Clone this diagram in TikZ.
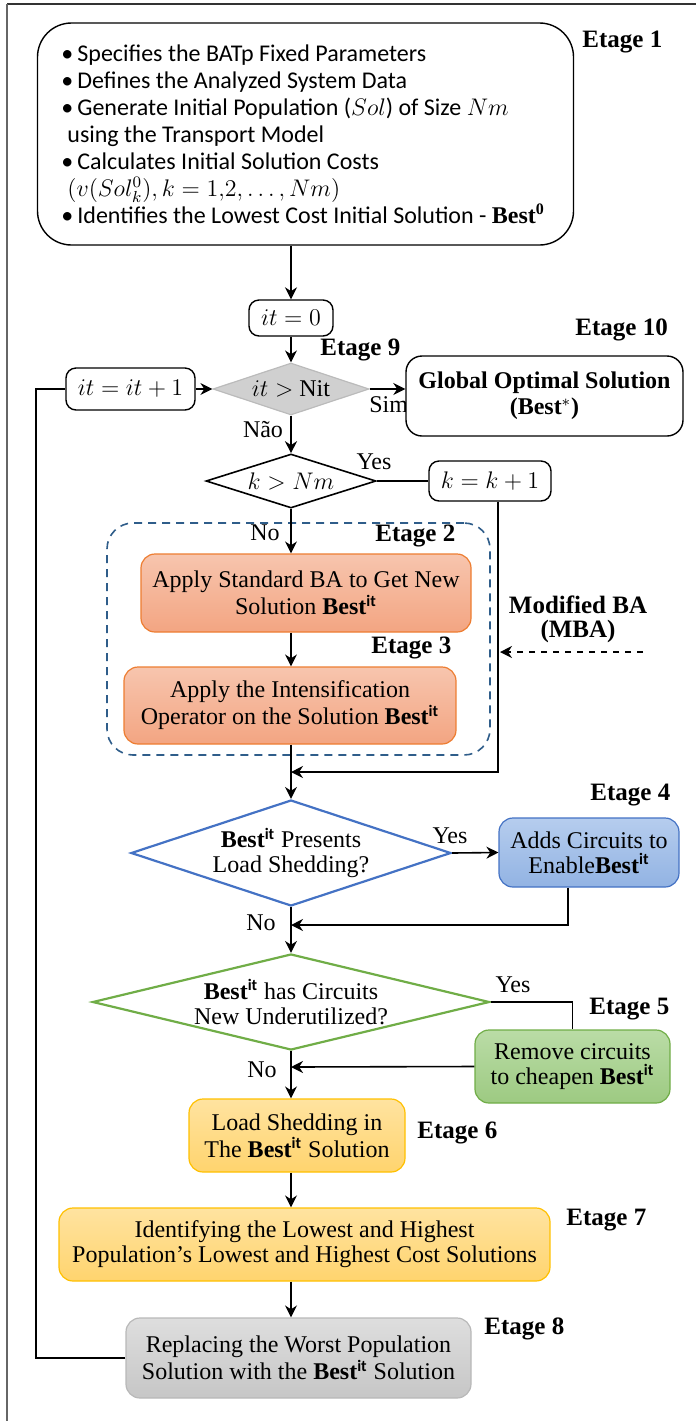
\documentclass[tikz,border=0pt]{standalone}
\usepackage{fontspec}
\setmainfont{Liberation Serif}
\newfontfamily\calibri{Carlito}
\usetikzlibrary{positioning,shapes.geometric,arrows.meta,backgrounds}

\newcommand{\bestit}{\textbf{Best}\textsuperscript{\calibri\bfseries it}}
\newcommand{\bul}{\makebox[8pt][l]{\textbullet}}
\newcommand{\nobul}{\hspace*{3pt}}

\begin{document}
\begin{tikzpicture}[x=0.5pt,y=-0.5pt,
    every node/.style={font=\fontsize{12}{12.5}\selectfont},
    roundbox/.style={draw,fill=white,rounded corners=5pt,line width=0.7pt,align=center,inner sep=0pt},
    fillbox/.style={rounded corners=7pt,line width=0.6pt,align=center,inner sep=0pt},
    choice/.style={diamond,inner sep=0pt,line width=1.1pt},
    etage/.style={anchor=west,inner sep=0pt,font=\fontsize{12.5}{13}\selectfont\bfseries},
    flow/.style={-{Stealth[length=6pt,width=6pt]},line width=0.8pt},
    link/.style={line width=0.8pt}
  ]
  \definecolor{orline}{HTML}{ED7D31}
  \definecolor{ortop}{HTML}{F7C5AE}
  \definecolor{orbot}{HTML}{F3A582}
  \definecolor{blline}{HTML}{4472C4}
  \definecolor{bltop}{HTML}{B6CDEE}
  \definecolor{blbot}{HTML}{92B3E3}
  \definecolor{grline}{HTML}{70AD47}
  \definecolor{grtop}{HTML}{BADCA6}
  \definecolor{grbot}{HTML}{9DCA82}
  \definecolor{yeline}{HTML}{FFC000}
  \definecolor{yetop}{HTML}{FFE3A0}
  \definecolor{yebot}{HTML}{FFD46E}
  \definecolor{gyline}{HTML}{B8B8B8}
  \definecolor{gytop}{HTML}{DEDEDE}
  \definecolor{gybot}{HTML}{C6C6C6}
  \definecolor{dgray}{HTML}{D0D0D0}
  \definecolor{grpblue}{HTML}{2F5D8A}

  \useasboundingbox (0,0) rectangle (696,1421);
  \draw[line width=1pt,black!80] (7,4) -- (696,4);
  \draw[line width=1.2pt,black!60] (7,1421) -- (7,4);

  % stage 1
  \node[roundbox,rounded corners=17pt,minimum width=268pt,minimum height=111pt] (init) at (305.5,134) {};
  \node[anchor=north west,inner sep=0pt,align=left,font=\calibri\fontsize{12}{13.5}\selectfont] (initList) at (61,44)
    {\bul Specifies the BATp Fixed Parameters\\
     \bul Defines the Analyzed System Data\\
     \bul Generate Initial Population ($Sol$) of Size $Nm$\\
     \nobul using the Transport Model\\
     \bul Calculates Initial Solution Costs\\
     \nobul $(v(Sol_k^0), k = 1{,}2, \dots, Nm)$\\
     \bul Identifies the Lowest Cost Initial Solution - \textbf{\rmfamily Best\textsuperscript{0}}};
  \node[etage] (e1) at (582,42) {Etage 1};

  \node[roundbox,minimum width=42pt,minimum height=18pt] (it0) at (291,318) {$it = 0$};

  % stage 9 / 10
  \node[etage] (e9) at (320,350) {Etage 9};
  \node[choice,fill=dgray,draw=dgray!90!black,line width=0.6pt,minimum width=78pt,minimum height=26pt] (d9) at (291,389) {};
  \node at (d9) {$it >$ Nit};
  \node[roundbox,minimum width=64.5pt,minimum height=21pt] (it1) at (130.5,389) {$it = it + 1$};
  \node[anchor=west,inner sep=0pt] (sim) at (369,405) {Sim};
  \node[roundbox,rounded corners=8pt,minimum width=138.5pt,minimum height=40pt,font=\fontsize{12}{13}\selectfont\bfseries] (glob) at (544.5,396)
    {Global Optimal Solution\\(Best$^{*}$)};
  \node[etage] (e10) at (575,330) {Etage 10};
  \node (nao) at (263,430) {Não};

  \node[choice,draw,line width=0.8pt,minimum width=85pt,minimum height=27pt] (dk) at (291,481) {};
  \node at (dk) {$k > Nm$};
  \node (yes1) at (374,462) {Yes};
  \node[roundbox,minimum width=61pt,minimum height=20pt] (kinc) at (490,481) {$k = k + 1$};

  % stages 2 and 3
  \node[draw=grpblue,dash pattern=on 4pt off 3pt,line width=0.8pt,rounded corners=13pt,
        minimum width=191.5pt,minimum height=116pt] (mba) at (298.5,639) {};
  \node (no1) at (265,533) {No};
  \node[etage] (e2) at (375,536) {Etage 2};
  \node[fillbox,draw=orline,top color=ortop,bottom color=orbot,minimum width=165pt,minimum height=39pt] (ba) at (306,593)
    {Apply Standard BA to Get New\\Solution \bestit};
  \node[etage] (e3) at (371,648) {Etage 3};
  \node[fillbox,draw=orline,top color=ortop,bottom color=orbot,minimum width=166pt,minimum height=38.5pt] (intens) at (290,705.5)
    {Apply the Intensification\\Operator on the Solution \bestit};
  \node[align=center,font=\fontsize{12.5}{12}\selectfont\bfseries] (mbalbl) at (578,619) {Modified BA\\(MBA)};
  \coordinate (mbaIn) at (643,652);
  \coordinate (mbaTip) at (500,652);
  \coordinate (mergeA) at (291,772);

  % stage 4
  \node[etage] (e4) at (590,795) {Etage 4};
  \node[choice,draw=blline,minimum width=160pt,minimum height=53pt] (d4) at (291,853) {};
  \node[align=center] at (d4) {\textbf{Best}\textsuperscript{\calibri\bfseries it} Presents\\Load Shedding?};
  \node (yes2) at (450,836) {Yes};
  \node[fillbox,draw=blline,top color=bltop,bottom color=blbot,minimum width=90pt,minimum height=34.5pt] (adds) at (589,852.5)
    {Adds Circuits to\\Enable\bestit};
  \coordinate (mergeB) at (291,925);
  \node (no2) at (261,923) {No};

  % stage 5
  \node[choice,draw=grline,minimum width=198.5pt,minimum height=48pt] (d5) at (291,1002) {};
  \node[align=center] at (d5) {\bestit{} has Circuits\\New Underutilized?};
  \node (yes3) at (513,985) {Yes};
  \node[etage] (e5) at (589,1009) {Etage 5};
  \node[fillbox,draw=grline,top color=grtop,bottom color=grbot,minimum width=97.5pt,minimum height=36.5pt] (remove) at (572.5,1066.5)
    {Remove circuits\\to cheapen \bestit};
  \coordinate (mergeC) at (291,1067);
  \node (no3) at (262,1070) {No};

  % stages 6 to 8
  \node[fillbox,draw=yeline,top color=yetop,bottom color=yebot,minimum width=108pt,minimum height=36.5pt] (shed) at (297,1135.5)
    {Load Shedding in\\The \bestit{} Solution};
  \node[etage] (e6) at (417,1133) {Etage 6};
  \node[fillbox,draw=yeline,top color=yetop,bottom color=yebot,minimum width=245.5pt,minimum height=36.5pt] (ident) at (304.5,1244.5)
    {Identifying the Lowest and Highest\\Population's Lowest and Highest Cost Solutions};
  \node[etage] (e7) at (566,1220) {Etage 7};
  \node[fillbox,draw=gyline,top color=gytop,bottom color=gybot,minimum width=172.5pt,minimum height=40pt] (replace) at (298.5,1358)
    {Replacing the Worst Population\\Solution with the \bestit{} Solution};
  \node[etage] (e8) at (484,1329) {Etage 8};
  \coordinate (back) at (36,1358);

  % connectors
  \draw[flow] (init.south -| it0.north) -- (it0.north);
  \draw[flow] (it0) -- (d9);
  \draw[flow] (it1) -- (d9);
  \draw[flow] (d9.east) -- (d9.east -| glob.west);
  \draw[flow] (d9) -- (dk);
  \draw[link] (dk.east) -- (kinc.west);
  \draw[flow] ([xshift=4pt]kinc.south) |- (mergeA);
  \draw[flow] (dk.south) -- (ba.north -| dk.south);
  \draw[flow] (ba.south -| dk.south) -- (intens.north -| dk.south);
  \draw[link] (intens.south -| dk.south) -- (mergeA);
  \draw[flow] (mergeA) -- (d4.north);
  \draw[flow,dashed] (mbaIn) -- (mbaTip);
  \draw[flow] (d4.east) -- (adds.west);
  \draw[flow] ([xshift=-10.5pt]adds.south) |- (mergeB);
  \draw[flow] (d4.south) -- (d5.north);
  \draw[link] (d5.east) -| (remove.north);
  \draw[flow] (remove.west) -- (mergeC);
  \draw[flow] (d5.south) -- (shed.north -| d5.south);
  \draw[flow] (shed.south -| d5.south) -- (ident.north -| d5.south);
  \draw[flow] (ident.south -| d5.south) -- (replace.north -| d5.south);
  \draw[link] (replace.west) -- (back) |- (it1.west);
\end{tikzpicture}
\end{document}
